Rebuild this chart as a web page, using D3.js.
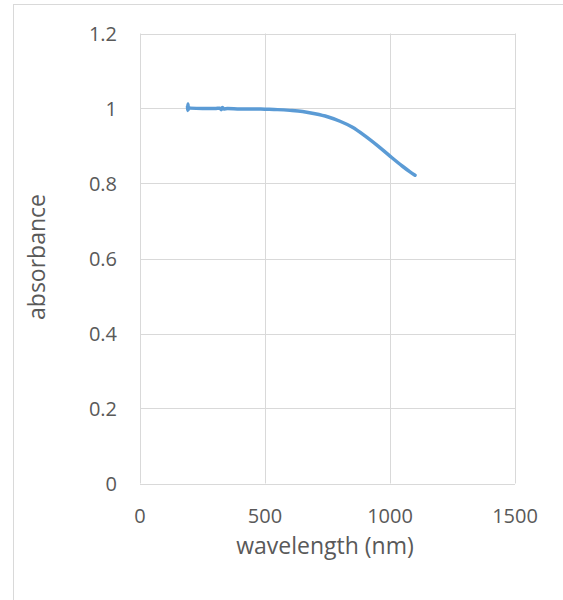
<!DOCTYPE html>
<html>
<head>
<meta charset="utf-8">
<script src="https://d3js.org/d3.v7.min.js"></script>
<style>
  body { margin: 0; background: #fff; }
  text { font-family: "Open Sans", "Liberation Sans", sans-serif; fill: #595959; }
</style>
</head>
<body>
<svg width="563" height="600"></svg>
<script>
// spectrum
var wavelength = [190, 191, 192, 193, 195, 200, 250, 300, 320, 325, 330, 335, 350, 400, 450, 500, 550, 600, 650, 700, 750, 800, 850, 900, 950, 1000, 1050, 1080, 1100];
var absorbance = [1.005, 0.995, 1.012, 0.997, 1.003, 1.001, 1.000, 1.000, 1.001, 0.997, 1.003, 0.999, 1.000, 0.999, 0.999, 0.998, 0.997, 0.995, 0.992, 0.986, 0.978, 0.966, 0.950, 0.927, 0.901, 0.873, 0.846, 0.831, 0.822];
var xTicks = [0, 500, 1000, 1500];
var yTicks = [0, 0.2, 0.4, 0.6, 0.8, 1, 1.2];

var svg = d3.select("svg");

// outer chart frame (only left and top visible)
svg.append("rect")
    .attr("x", 13.5).attr("y", 4.5)
    .attr("width", 600).attr("height", 700)
    .attr("fill", "none")
    .attr("stroke", "#d9d9d9");

var x = d3.scaleLinear().domain([0, 1500]).range([140, 515]);
var y = d3.scaleLinear().domain([0, 1.2]).range([483.5, 33.5]);

// gridlines
svg.append("g").selectAll("line")
    .data(xTicks)
  .enter().append("line")
    .attr("x1", function(d) { return Math.round(x(d)) + 0.5; })
    .attr("x2", function(d) { return Math.round(x(d)) + 0.5; })
    .attr("y1", y(0)).attr("y2", y(1.2))
    .attr("stroke", "#d9d9d9");

svg.append("g").selectAll("line")
    .data(yTicks)
  .enter().append("line")
    .attr("y1", function(d) { return Math.round(y(d)) + 0.5; })
    .attr("y2", function(d) { return Math.round(y(d)) + 0.5; })
    .attr("x1", x(0)).attr("x2", x(1500))
    .attr("stroke", "#d9d9d9");

// tick labels
svg.append("g").selectAll("text")
    .data(yTicks)
  .enter().append("text")
    .attr("x", 117)
    .attr("y", function(d) { return y(d) + 7; })
    .attr("text-anchor", "end")
    .attr("font-size", 20)
    .text(function(d) { return d; });

svg.append("g").selectAll("text")
    .data(xTicks)
  .enter().append("text")
    .attr("x", function(d) { return x(d); })
    .attr("y", 523)
    .attr("text-anchor", "middle")
    .attr("font-size", 20)
    .text(function(d) { return d; });

// axis titles
svg.append("text")
    .attr("x", 325).attr("y", 554)
    .attr("text-anchor", "middle")
    .attr("font-size", 23)
    .text("wavelength (nm)");

svg.append("text")
    .attr("transform", "translate(45,257) rotate(-90)")
    .attr("text-anchor", "middle")
    .attr("font-size", 23)
    .text("absorbance");

// the spectrum
var line = d3.line()
    .x(function(d, i) { return x(wavelength[i]); })
    .y(function(d) { return y(d); })
    .curve(d3.curveMonotoneX);

svg.append("path")
    .datum(absorbance)
    .attr("d", line)
    .attr("fill", "none")
    .attr("stroke", "#5b9bd5")
    .attr("stroke-width", 3.5)
    .attr("stroke-linecap", "round")
    .attr("stroke-linejoin", "round");
</script>
</body>
</html>
